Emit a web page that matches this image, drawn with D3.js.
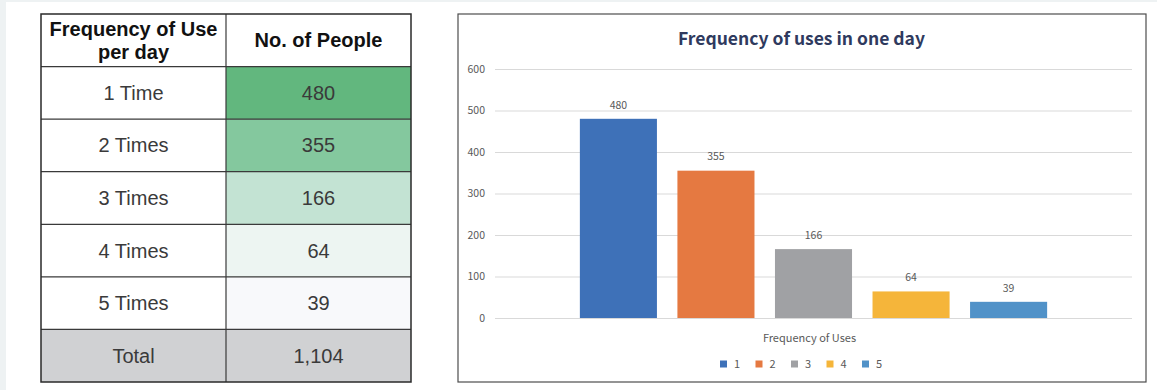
<!DOCTYPE html>
<html>
<head>
<meta charset="utf-8">
<script src="https://cdn.jsdelivr.net/npm/d3@7"></script>
<style>
  html, body { margin: 0; padding: 0; background: #ffffff; }
  svg { display: block; }
</style>
</head>
<body>
<svg id="root" width="1157" height="390"></svg>
<script>
// ---- data ----
const freqLabels = ["1 Time", "2 Times", "3 Times", "4 Times", "5 Times"];
const seriesNames = ["1", "2", "3", "4", "5"];
const people = [480, 355, 166, 64, 39];
const yTicks = [0, 100, 200, 300, 400, 500, 600];
const headerLines = [["Frequency of Use", "per day"], ["No. of People"]];
const totalLabel = "Total";
const chartTitle = "Frequency of uses in one day";
const axisTitle = "Frequency of Uses";

// ---- styles ----
const seriesColors = ["#3e71b8", "#e57941", "#a0a1a4", "#f5b53a", "#5192c8"];
const cellColors = ["#62b77e", "#84c89e", "#c3e3d3", "#edf5f2", "#f8f9fb"];
const totalColor = "#d0d1d3";
const tableFont = "'Liberation Sans', Arial, sans-serif";
const chartFont = "'Noto Sans CJK JP', 'Noto Sans', sans-serif";

const svg = d3.select("#root");

// page frame strips
svg.append("rect").attr("x", 0).attr("y", 0).attr("width", 1157).attr("height", 2).attr("fill", "#eef2f3");
svg.append("rect").attr("x", 0).attr("y", 0).attr("width", 6).attr("height", 390).attr("fill", "#eef2f3");

// ---- table ----
const tbl = { x0: 41, x1: 411, xm: 226, y0: 14, y1: 382 };
const nRows = freqLabels.length + 2;
const rowY = d3.scaleLinear().domain([0, nRows]).range([tbl.y0, tbl.y1]);
const tg = svg.append("g");

// cell fills
freqLabels.forEach((lab, i) => {
  tg.append("rect").attr("x", tbl.xm).attr("y", rowY(i + 1))
    .attr("width", tbl.x1 - tbl.xm).attr("height", rowY(i + 2) - rowY(i + 1))
    .attr("fill", cellColors[i]);
});
tg.append("rect").attr("x", tbl.x0).attr("y", rowY(nRows - 1))
  .attr("width", tbl.x1 - tbl.x0).attr("height", rowY(nRows) - rowY(nRows - 1))
  .attr("fill", totalColor);

// grid lines
d3.range(1, nRows).forEach(r => {
  tg.append("line").attr("x1", tbl.x0).attr("x2", tbl.x1)
    .attr("y1", rowY(r)).attr("y2", rowY(r))
    .attr("stroke", "#3a3a3a").attr("stroke-width", 1.2);
});
tg.append("line").attr("x1", tbl.xm).attr("x2", tbl.xm)
  .attr("y1", tbl.y0).attr("y2", tbl.y1)
  .attr("stroke", "#3a3a3a").attr("stroke-width", 1.2);
tg.append("rect").attr("x", tbl.x0).attr("y", tbl.y0)
  .attr("width", tbl.x1 - tbl.x0).attr("height", tbl.y1 - tbl.y0)
  .attr("fill", "none").attr("stroke", "#2a2a2a").attr("stroke-width", 1.5);

const colCx = [(tbl.x0 + tbl.xm) / 2, (tbl.xm + tbl.x1) / 2];

// header: one text per cell, wrapped lines as tspans
headerLines.forEach((lines, c) => {
  const cy = (rowY(0) + rowY(1)) / 2;
  const lh = 23;
  const txt = tg.append("text")
    .attr("text-anchor", "middle")
    .attr("font-family", tableFont)
    .attr("font-weight", 700)
    .attr("font-size", 20)
    .attr("fill", "#111");
  lines.forEach((t, k) => {
    txt.append("tspan")
      .attr("x", colCx[c])
      .attr("y", cy + (k - (lines.length - 1) / 2) * lh)
      .attr("dy", "0.35em")
      .text(t);
  });
});

// body rows
const fmt = d3.format(",");
function rowText(r, c, t) {
  tg.append("text")
    .attr("x", colCx[c])
    .attr("y", (rowY(r) + rowY(r + 1)) / 2)
    .attr("dy", "0.35em")
    .attr("text-anchor", "middle")
    .attr("font-family", tableFont)
    .attr("font-size", 20)
    .attr("fill", "#3a3a3a")
    .text(t);
}
freqLabels.forEach((lab, i) => {
  rowText(i + 1, 0, lab);
  rowText(i + 1, 1, fmt(people[i]));
});
rowText(nRows - 1, 0, totalLabel);
rowText(nRows - 1, 1, fmt(d3.sum(people)));

// ---- chart ----
const box = { x0: 458, y0: 14, x1: 1146, y1: 382 };
const plot = { left: 495, right: 1132, top: 69, bottom: 318 };
const cg = svg.append("g");

cg.append("rect").attr("x", box.x0).attr("y", box.y0)
  .attr("width", box.x1 - box.x0).attr("height", box.y1 - box.y0)
  .attr("fill", "#fff").attr("stroke", "#4d4d4d").attr("stroke-width", 1.2);

cg.append("text")
  .attr("x", (plot.left + plot.right) / 2 - 12)
  .attr("y", 39).attr("dy", "0.36em")
  .attr("text-anchor", "middle")
  .attr("font-family", chartFont)
  .attr("font-weight", 700)
  .attr("font-size", 17.5)
  .attr("fill", "#2f3a5e")
  .text(chartTitle);

const y = d3.scaleLinear().domain([0, 600]).range([plot.bottom, plot.top]);
const x = d3.scaleBand().domain(seriesNames)
  .range([plot.left, plot.right])
  .paddingInner(0.21).paddingOuter(0.87);

// gridlines + tick labels via axis
const yAxis = d3.axisLeft(y).tickValues(yTicks)
  .tickSize(-(plot.right - plot.left)).tickPadding(10);
const ya = cg.append("g").attr("transform", `translate(${plot.left},0)`).call(yAxis);
ya.select(".domain").remove();
ya.selectAll(".tick line").attr("stroke", "#d9d9d9").attr("stroke-width", 1);
ya.selectAll(".tick text")
  .attr("font-family", chartFont).attr("font-size", 10.5).attr("fill", "#595959");

// bars
const data = seriesNames.map((s, i) => ({ s, v: people[i], c: seriesColors[i] }));
cg.append("g").selectAll("rect").data(data).join("rect")
  .attr("x", d => x(d.s))
  .attr("y", d => y(d.v))
  .attr("width", x.bandwidth())
  .attr("height", d => y(0) - y(d.v))
  .attr("fill", d => d.c);

// value labels
cg.append("g").selectAll("text").data(data).join("text")
  .attr("x", d => x(d.s) + x.bandwidth() / 2)
  .attr("y", d => y(d.v) - 14)
  .attr("dy", "0.36em")
  .attr("text-anchor", "middle")
  .attr("font-family", chartFont).attr("font-size", 10.5).attr("fill", "#595959")
  .text(d => d.v);

// axis title
cg.append("text")
  .attr("x", (plot.left + plot.right) / 2 - 4)
  .attr("y", 338).attr("dy", "0.36em")
  .attr("text-anchor", "middle")
  .attr("font-family", chartFont).attr("font-size", 11).attr("fill", "#595959")
  .text(axisTitle);

// legend
const legX = d3.scalePoint().domain(seriesNames).range([720, 862]);
const lg = cg.append("g").selectAll("g").data(data).join("g")
  .attr("transform", d => `translate(${legX(d.s)},364)`);
lg.append("rect").attr("x", 0).attr("y", -3.5).attr("width", 7).attr("height", 7)
  .attr("fill", d => d.c);
lg.append("text").attr("x", 17).attr("y", 0).attr("dy", "0.36em")
  .attr("text-anchor", "middle")
  .attr("font-family", chartFont).attr("font-size", 11).attr("fill", "#595959")
  .text(d => d.s);
</script>
</body>
</html>
